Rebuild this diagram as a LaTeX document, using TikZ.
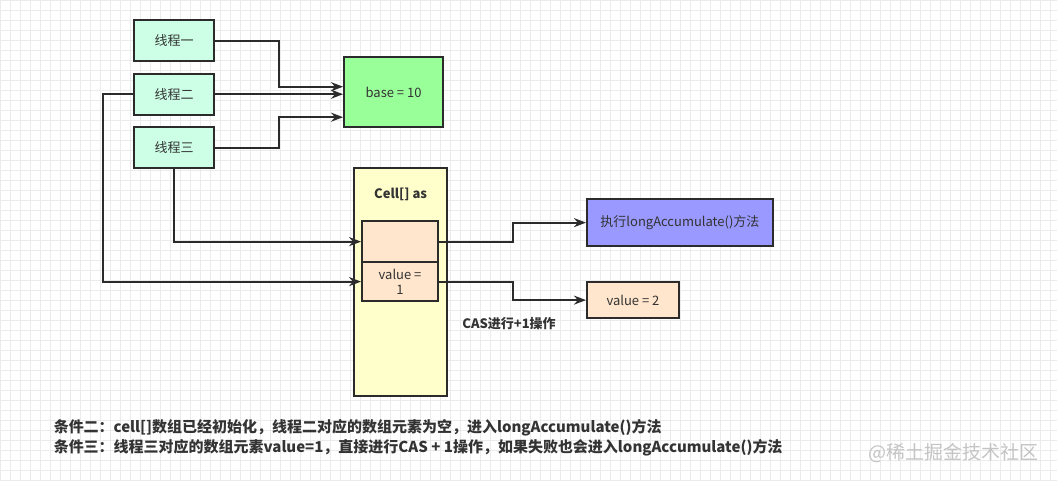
\documentclass[tikz,border=0pt]{standalone}
\usepackage{fontspec}
\setmainfont{Noto Sans CJK SC}
\usetikzlibrary{arrows.meta,positioning}

\definecolor{linec}{HTML}{2B2B2B}
\definecolor{textc}{HTML}{333333}
\definecolor{gridc}{HTML}{EBEBEB}
\definecolor{threadc}{HTML}{CCFFE6}
\definecolor{basec}{HTML}{99FF99}
\definecolor{arrayc}{HTML}{FFFFCC}
\definecolor{cellc}{HTML}{FFE6CC}
\definecolor{runc}{HTML}{9999FF}
\definecolor{wmc}{HTML}{C4C4C4}

\begin{document}
\begin{tikzpicture}[x=1pt,y=1pt,>={Stealth[length=12pt,width=9pt]},
    node distance=53.5pt,font=\fontsize{13}{15}\selectfont,
    box/.style={rectangle,draw=linec,line width=2pt,inner sep=0pt,text=textc},
    thread/.style={box,fill=threadc,minimum width=80pt,minimum height=41pt},
    cellbox/.style={box,fill=cellc,minimum width=76pt},
    link/.style={->,draw=linec,line width=2pt}]
  \fill[white] (0,-480) rectangle (1057,0);
  \draw[gridc,line width=0.5pt,step=10] (0,-480) grid (1057,0);
  \useasboundingbox (0,-480) rectangle (1057,0);

  \node[thread] (t1) at (174,-40.5) {线程一};
  \node[thread] (t2) [below of=t1] {线程二};
  \node[thread] (t3) [below of=t2] {线程三};

  \node[box,fill=basec,minimum width=99pt,minimum height=70pt] (base) at (393.5,-92) {base = 10};

  \node[box,fill=arrayc,minimum width=93pt,minimum height=228pt] (as) at (400.5,-282) {};
  \node[text=textc,font=\fontsize{13}{15}\selectfont\bfseries] (asl) at (400.5,-194) {Cell[] as};
  \node[cellbox,minimum height=41pt] (c0) at (400,-241.5) {};
  \node[cellbox,minimum height=39pt,align=center] (c1) at (400,-281.5) {value =\\1};

  \node[box,fill=runc,minimum width=186pt,minimum height=47pt] (run) at (680,-222.5) {执行longAccumulate()方法};
  \node[cellbox,minimum width=92pt,minimum height=36pt] (v2) at (633,-300) {value = 2};
  \node[text=textc,font=\fontsize{13}{15}\selectfont\bfseries] (cas) at (509,-323) {CAS进行+1操作};

  \draw[link] (t1.east) -- ++(64,0) |- ([yshift=-30.5pt]base.north west);
  \draw[link] (t2.east) -- (t2.east -| base.west);
  \draw[link] (t3.east) -- ++(64,0) |- ([yshift=11pt]base.south west);
  \draw[link] (t2.west) -- ++(-30,0) |- (c1.west);
  \draw[link] (t3.south) |- (c0.west);
  \draw[link] (c0.east) -- ++(74,0) |- (run.west);
  \draw[link] (c1.east) -- ++(74,0) |- (v2.west);

  % notes below the diagram
  \node[anchor=west,text=textc,font=\fontsize{15}{17}\selectfont\bfseries] (n2) at (50,-428) {条件二：cell[]数组已经初始化，线程二对应的数组元素为空，进入longAccumulate()方法};
  \node[anchor=west,text=textc,font=\fontsize{15}{17}\selectfont\bfseries] (n3) at (50,-448) {条件三：线程三对应的数组元素value=1，直接进行CAS + 1操作，如果失败也会进入longAccumulate()方法};
  \node[anchor=east,text=wmc,font=\fontsize{19}{22}\selectfont] (wm) at (1042,-453) {@稀土掘金技术社区};
\end{tikzpicture}
\end{document}
